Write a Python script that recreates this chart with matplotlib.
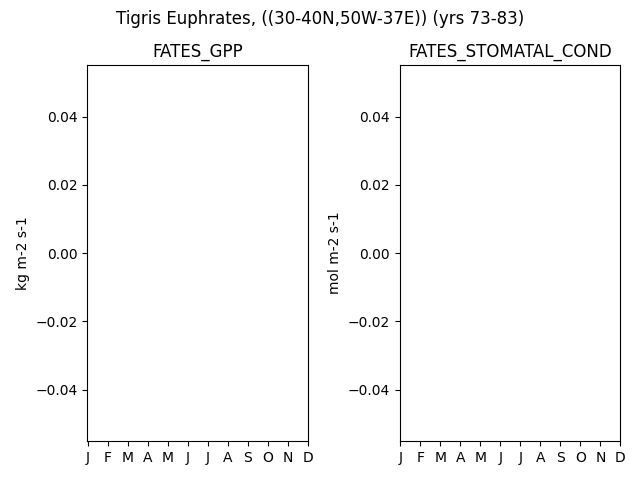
import numpy as np
import matplotlib
matplotlib.use("Agg")
import matplotlib.pyplot as plt

months = list(range(1, 13))
month_labels = ["J", "F", "M", "A", "M", "J", "J", "A", "S", "O", "N", "D"]
gpp = [np.nan] * 12
stomatal_cond = [np.nan] * 12

fig, axes = plt.subplots(1, 2, figsize=(6.4, 4.8), dpi=100)
panels = [("FATES_GPP", "kg m-2 s-1", gpp),
          ("FATES_STOMATAL_COND", "mol m-2 s-1", stomatal_cond)]
for ax, (title, unit, vals) in zip(axes, panels):
    ax.plot(months, vals)
    ax.set_title(title)
    ax.set_ylabel(unit)
    ax.set_xticks(months)
    ax.set_xticklabels(month_labels)
    ax.set_xlim(0.97, 12)
    ax.set_ylim(-0.055, 0.055)

fig.suptitle("Tigris Euphrates, ((30-40N,50W-37E)) (yrs 73-83)")
fig.subplots_adjust(left=0.1364, right=0.9695, top=0.864, bottom=0.0813, wspace=0.417)
fig.savefig("out.png")
